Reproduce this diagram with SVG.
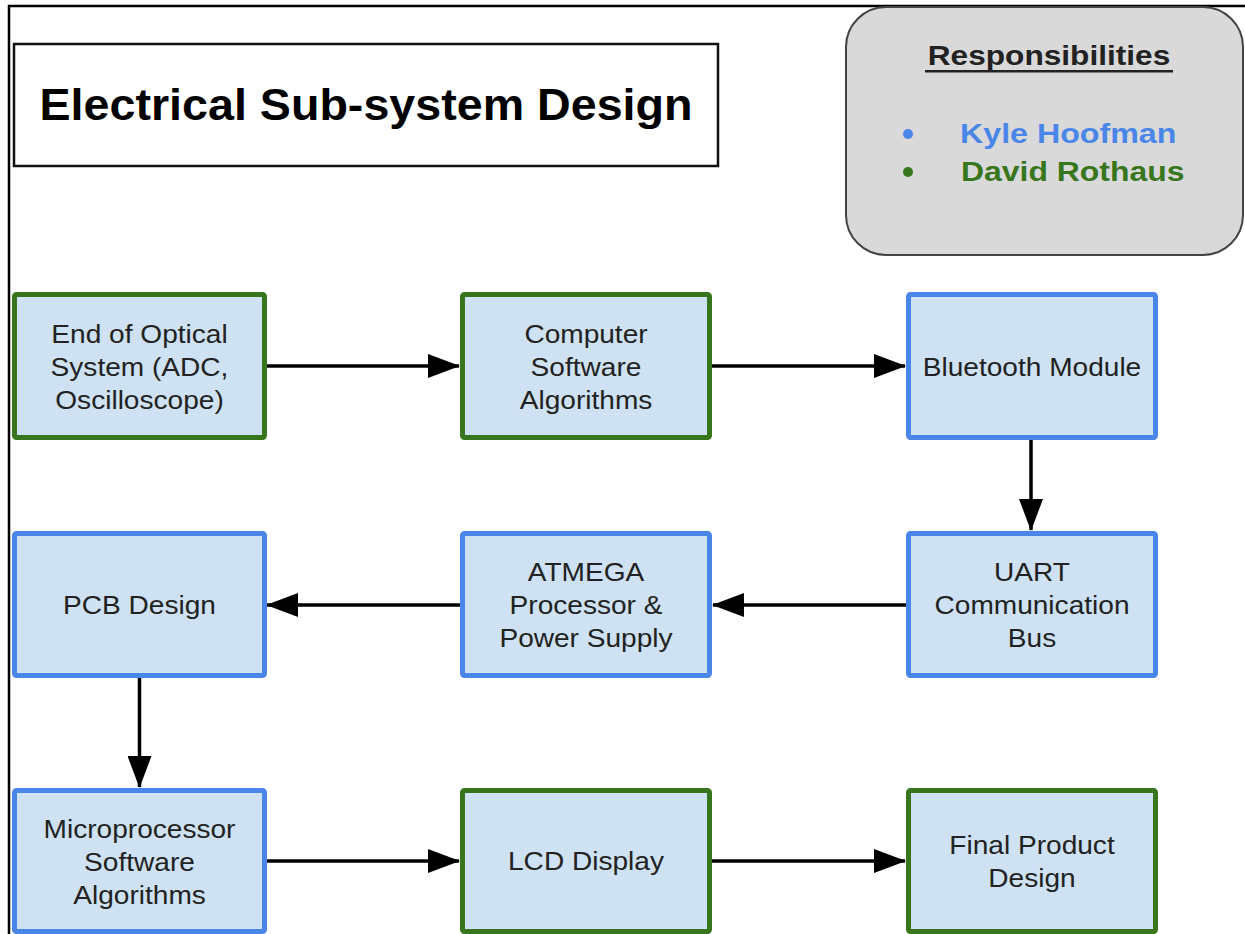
<svg xmlns="http://www.w3.org/2000/svg" width="1245" height="934" viewBox="0 0 1245 934">
<defs>
<style>
.frame{stroke:#000;stroke-width:2.5;fill:none}
.node rect{fill:#cfe2f3;stroke-width:5}
.g rect{stroke:#38761d}
.b rect{stroke:#4a86e8}
.node text{font-family:"Liberation Sans",Arial,sans-serif;font-size:26px;fill:#222;text-anchor:middle}
.conn path{stroke:#000;stroke-width:3.5;fill:none;marker-end:url(#ah)}
.title{font-family:"Liberation Sans",Arial,sans-serif;font-size:44px;font-weight:bold;fill:#000;text-anchor:middle}
.resp{font-family:"Liberation Sans",Arial,sans-serif;font-size:28px;font-weight:bold}
</style>
<marker id="ah" markerUnits="userSpaceOnUse" markerWidth="32" markerHeight="24" refX="31" refY="12" orient="auto">
<path d="M0,0 L32,12 L0,24 z" fill="#000"/>
</marker>
</defs>
<rect width="1245" height="934" fill="#fff"/>
<g id="frame">
<path class="frame" d="M9,934 V6 H1245"/>
</g>
<g id="title">
<rect x="14" y="44" width="704" height="122" fill="#fff" stroke="#111" stroke-width="2.5"/>
<text class="title" transform="translate(366,120) scale(1.06,1)">Electrical Sub-system Design</text>
</g>
<g id="responsibilities">
<rect x="846" y="7" width="397" height="248" rx="40" ry="40" fill="#d9d9d9" stroke="#444" stroke-width="2"/>
<text class="resp" fill="#222" text-anchor="middle" transform="translate(1049,65) scale(1.13,1)">Responsibilities</text>
<rect x="925" y="70" width="248" height="2.5" fill="#222"/>
<circle cx="908" cy="134" r="5" fill="#4a86e8"/>
<text class="resp" fill="#4a86e8" transform="translate(960,143) scale(1.15,1)">Kyle Hoofman</text>
<circle cx="908" cy="172" r="5" fill="#38761d"/>
<text class="resp" fill="#38761d" transform="translate(961,181) scale(1.14,1)">David Rothaus</text>
</g>
<g id="connectors" class="conn">
<path d="M266,366 H459"/>
<path d="M711,366 H905"/>
<path d="M1031,440 V530"/>
<path d="M906,605 H713"/>
<path d="M460,605 H267"/>
<path d="M139.5,678 V787"/>
<path d="M266,861 H459"/>
<path d="M711,861 H905"/>
</g>
<g id="n1" class="node g">
<rect x="14.5" y="294.5" width="250" height="143" rx="2"/>
<text transform="translate(139.5,343) scale(1.08,1)">End of Optical</text>
<text transform="translate(139.5,376) scale(1.08,1)">System (ADC,</text>
<text transform="translate(139.5,409) scale(1.08,1)">Oscilloscope)</text>
</g>
<g id="n2" class="node g">
<rect x="462.5" y="294.5" width="247" height="143" rx="2"/>
<text transform="translate(586,343) scale(1.08,1)">Computer</text>
<text transform="translate(586,376) scale(1.08,1)">Software</text>
<text transform="translate(586,409) scale(1.08,1)">Algorithms</text>
</g>
<g id="n3" class="node b">
<rect x="908.5" y="294.5" width="247" height="143" rx="2"/>
<text transform="translate(1032,376) scale(1.08,1)">Bluetooth Module</text>
</g>
<g id="n4" class="node b">
<rect x="908.5" y="533.5" width="247" height="142" rx="2"/>
<text transform="translate(1032,581) scale(1.08,1)">UART</text>
<text transform="translate(1032,614) scale(1.08,1)">Communication</text>
<text transform="translate(1032,647) scale(1.08,1)">Bus</text>
</g>
<g id="n5" class="node b">
<rect x="462.5" y="533.5" width="247" height="142" rx="2"/>
<text transform="translate(586,581) scale(1.08,1)">ATMEGA</text>
<text transform="translate(586,614) scale(1.08,1)">Processor &amp;</text>
<text transform="translate(586,647) scale(1.08,1)">Power Supply</text>
</g>
<g id="n6" class="node b">
<rect x="14.5" y="533.5" width="250" height="142" rx="2"/>
<text transform="translate(139.5,614) scale(1.08,1)">PCB Design</text>
</g>
<g id="n7" class="node b">
<rect x="14.5" y="790.5" width="250" height="141" rx="2"/>
<text transform="translate(139.5,838) scale(1.08,1)">Microprocessor</text>
<text transform="translate(139.5,871) scale(1.08,1)">Software</text>
<text transform="translate(139.5,904) scale(1.08,1)">Algorithms</text>
</g>
<g id="n8" class="node g">
<rect x="462.5" y="790.5" width="247" height="141" rx="2"/>
<text transform="translate(586,870) scale(1.08,1)">LCD Display</text>
</g>
<g id="n9" class="node g">
<rect x="908.5" y="790.5" width="247" height="141" rx="2"/>
<text transform="translate(1032,854) scale(1.08,1)">Final Product</text>
<text transform="translate(1032,887) scale(1.08,1)">Design</text>
</g>
</svg>
